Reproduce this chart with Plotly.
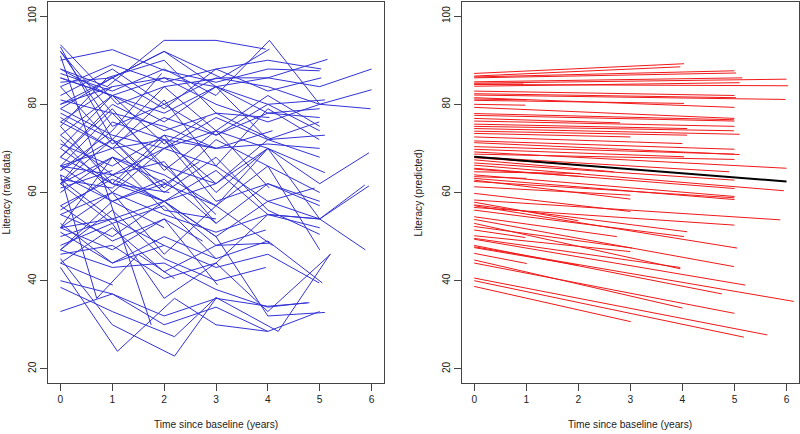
import plotly.graph_objects as go

# ---- Predicted (red) lines: intercept at t=0, end time, end value ----
red_y0 = [87.0, 86.4, 86.2, 86.0, 85.1, 84.8, 84.5, 84.1, 83.0, 82.4, 82.1, 81.5, 80.9, 80.0,
          79.3, 77.9, 77.5, 76.8, 76.2, 75.5, 75.0, 74.5, 73.9, 73.4, 72.6, 71.7, 71.3, 70.4,
          69.8, 69.2, 68.7, 68.1, 67.4, 66.7, 66.2, 65.5, 64.7, 64.0, 63.6, 63.2, 62.8, 62.5,
          61.3, 59.8, 58.3, 57.2, 57.0, 56.6, 56.0, 54.5, 53.9, 53.0, 52.3, 50.2, 49.6, 49.4,
          48.0, 47.7, 46.2, 44.7, 44.0, 40.6, 40.0, 38.7, 84.6, 81.2, 67.9, 65.3, 57.8, 47.5, 51.5]
red_t1 = [4.03, 3.96, 5.0, 5.03, 5.15, 6.0, 6.03, 5.1, 5.0, 5.03, 5.98, 5.0, 4.03, 0.98,
          5.0, 4.99, 5.0, 2.8, 5.0, 4.09, 4.99, 5.1, 4.09, 3.0, 4.0, 5.0, 5.1, 5.0,
          4.03, 6.0, 5.0, 4.9, 2.68, 5.0, 5.95, 5.0, 2.04, 5.0, 1.0, 5.0, 3.0, 5.0,
          3.0, 3.0, 5.88, 4.09, 5.05, 5.0, 4.03, 2.74, 4.99, 3.96, 3.03, 3.0, 3.96, 5.21,
          4.76, 6.14, 1.01, 4.0, 5.0, 5.63, 5.18, 3.01, 0.95, 1.0, 1.95, 2.1, 2.0, 2.0, 0.98]
red_y1 = [89.2, 88.5, 87.6, 87.1, 86.0, 85.7, 84.2, 84.9, 82.0, 81.5, 81.1, 79.3, 80.2, 79.8,
          76.8, 76.5, 76.2, 75.8, 75.0, 74.5, 74.0, 73.2, 73.0, 72.6, 71.1, 69.8, 68.6, 68.7,
          68.1, 65.5, 67.5, 64.7, 64.7, 62.8, 60.4, 60.9, 64.3, 59.1, 63.2, 58.4, 58.5, 58.8,
          59.4, 55.7, 53.8, 51.1, 47.4, 52.6, 50.0, 50.0, 43.2, 42.7, 47.4, 46.6, 43.0, 39.0,
          37.0, 35.3, 43.9, 33.8, 32.6, 27.7, 27.2, 30.7, 84.6, 81.0, 66.3, 63.6, 53.6, 43.5, 49.8]

# ---- Population average (black) line ----
avg_t = [0, 6]
avg_y = [68.1, 62.5]

# ---- Raw data (blue) trajectories ----
blue_t = [
    [0, 1.0, 2.0, 3.1, 4.03], [0, 0.9, 2.0, 3.0, 3.96], [0, 1, 2, 3, 4, 5.0], [0, 1, 2, 3, 4, 5.03],
    [0, 1.1, 2, 3.1, 4, 5.15], [0, 1, 2, 3, 4, 5, 6.0], [0, 1, 2, 3, 4, 5, 6.0], [0, 1, 2, 3, 4, 5.1],
    [0, 1, 2, 3, 4.03, 5.0], [0, 1, 2, 3, 4, 5.03], [0, 1, 2, 3, 4, 5, 5.98], [0, 1, 2, 3, 4, 5],
    [0, 0.9, 2, 3, 4.03], [0, 0.98], [0, 1, 2, 3, 4, 5], [0, 1, 2, 3, 4, 4.99],
    [0, 1, 2, 3, 4, 5], [0, 1, 2, 2.8], [0, 1, 2, 3, 4, 5], [0, 1, 2, 3, 4.09],
    [0, 1, 2, 3, 4, 4.99], [0, 1, 2, 3, 4, 5.1], [0, 1, 2, 3, 4.09], [0, 1, 2, 3.0],
    [0, 1, 2, 3, 4.0], [0, 1, 2, 3, 4, 5], [0, 1, 2, 3, 4, 5.1], [0, 1, 2, 3, 4, 5],
    [0, 1, 2, 3, 4.03], [0, 1, 2, 3, 4, 5, 5.95], [0, 1, 2, 3, 4, 5], [0, 1, 2, 3, 4, 4.9],
    [0, 1, 1.9, 2.68], [0, 1, 2, 3, 4, 5], [0, 1, 2, 3, 4, 5, 5.95], [0, 1, 2, 3, 4, 5],
    [0, 1, 2.04], [0, 1, 2, 3, 4, 5], [0, 1.0], [0, 1, 2, 3, 4, 5],
    [0, 1, 2, 3.0], [0, 1, 2, 3, 4, 5], [0, 1, 2, 3.0], [0, 1, 2, 3.0],
    [0, 1, 2, 3, 4, 5, 5.88], [0, 1, 2, 3, 4.09], [0, 1, 2, 3, 4, 5.05], [0, 1, 2, 3, 4, 5],
    [0, 1, 2, 3, 4.03], [0, 1, 2, 2.74], [0, 1, 2, 3, 4, 4.99], [0, 1, 2, 3, 3.96],
    [0, 1, 2, 3.03], [0, 1, 2, 3.0], [0, 1, 2, 3, 3.96], [0, 1, 2, 3, 4, 5.21],
    [0, 1, 2, 3, 4, 4.76], [0, 1, 2, 3, 4, 5, 5.87], [0, 1.01], [0, 1.1, 2.2, 3, 4],
    [0, 1, 2, 3, 4, 5], [0, 1, 2.2, 3, 4.2, 5.2], [0, 1, 2.2, 3, 4, 4.8], [0, 1, 2, 3.01],
    [0, 0.95], [0, 1.0], [0, 1, 1.95], [0, 1, 2.1], [0, 1, 2.0], [0, 1, 2.0], [0, 0.98],
    [0, 0.9, 1.75], [0, 1, 2, 3], [0, 0.7, 1.5, 2.2], [0, 1, 2, 3, 4, 5.1],
]
blue_v = [
    [80, 86, 92, 86, 92.5], [88, 84, 94.5, 94.5, 92.5], [90, 92.4, 87.7, 85, 88, 87.6], [84, 89, 85, 88, 90, 88],
    [93.5, 80, 84, 86, 86, 90.2], [86, 82, 86, 84, 86, 84, 88], [82, 88, 80, 86, 84, 80, 83.3], [85, 86, 92, 84, 80, 81],
    [87, 83, 88, 82, 94.5, 80], [79, 86, 79, 88, 83, 86], [80, 84, 86, 80, 76, 80, 79], [86, 82, 76, 84, 78, 79],
    [75, 86, 90, 78, 77], [81, 78], [92, 75, 80, 73, 78, 77], [70, 82, 78, 84, 72, 76],
    [78, 72, 84, 74, 82, 75], [73, 82, 71, 77], [84, 71, 77, 73, 80, 74], [68, 80, 74, 78, 72],
    [76, 70, 81, 66, 79, 72], [79, 73, 70, 77, 72, 73], [66, 78, 75, 70, 74], [77, 70, 72, 70],
    [68, 79, 65, 74, 70], [75, 62, 73, 70, 71, 70], [62, 76, 72, 62, 70, 64.5], [93, 72, 61, 72, 66, 60],
    [73, 64, 70, 74, 61], [71, 66, 73, 60, 70, 62, 69], [65, 72, 66, 62, 72, 68], [72, 60, 70, 66, 58, 61],
    [62, 72, 61, 67], [66, 70, 60, 68, 56, 50.5], [60, 68, 64, 57, 70, 54, 61.5], [63, 61, 72, 58, 62, 57],
    [62, 68, 62], [68, 62, 58, 65, 55, 52], [61, 65], [56, 64, 67, 53, 62, 58],
    [66, 58, 63, 53], [64, 58, 62, 57, 66, 47], [57, 63, 58, 62], [52, 68, 56, 54],
    [63, 54, 58, 50, 58, 54, 47], [55, 60, 46, 57, 48], [62, 53, 57, 45, 49, 39.5], [52, 60, 55, 51, 55, 54],
    [55, 50, 58, 48, 48.5], [57, 49, 54, 49], [50, 54, 48, 43, 46, 39.5], [47, 56, 45, 40, 43],
    [52, 47, 54, 39], [53, 44, 50, 45], [44, 52, 42, 48, 51.5], [46, 48, 40.5, 44, 33, 46],
    [47, 43, 44, 38, 34, 35], [48, 53, 36, 44, 55, 54, 61.7], [44, 39], [43, 24, 36, 30, 28.5],
    [33, 37, 30, 34, 28.5, 33], [38.5, 33, 27.3, 36.2, 28.5, 46], [45, 30, 22.9, 36, 34.2, 35], [40, 37, 32, 36],
    [88, 82], [76, 84], [65, 74, 87], [70, 62, 60], [47, 58, 52], [51, 44, 48], [52, 54],
    [91, 60, 30], [92, 78, 66, 55], [64, 36, 46, 40.5], [66, 64, 58, 50, 32, 32.8],
]

x_ticks = [0, 1, 2, 3, 4, 5, 6]
y_ticks = [20, 40, 60, 80, 100]


def joined(ts, vs):
    xs, ys = [], []
    for t, v in zip(ts, vs):
        xs += list(t) + [None]
        ys += list(v) + [None]
    return xs, ys


bx, by = joined(blue_t, blue_v)
rx, ry = joined([[0, t1] for t1 in red_t1], [[a, b] for a, b in zip(red_y0, red_y1)])

fig = go.Figure()
fig.add_trace(go.Scatter(x=bx, y=by, mode="lines", line=dict(color="rgb(50,50,215)", width=1),
                         connectgaps=False, hoverinfo="skip", xaxis="x", yaxis="y"))
fig.add_trace(go.Scatter(x=rx, y=ry, mode="lines", line=dict(color="rgb(240,25,25)", width=1),
                         connectgaps=False, hoverinfo="skip", xaxis="x2", yaxis="y2"))
fig.add_trace(go.Scatter(x=avg_t, y=avg_y, mode="lines", line=dict(color="black", width=2),
                         hoverinfo="skip", xaxis="x2", yaxis="y2"))

font = dict(family="Liberation Sans, Arial, sans-serif", size=10.2, color="#222")
axcommon = dict(showgrid=False, zeroline=False, showline=True, mirror=True, linecolor="#444",
                linewidth=1, ticks="outside", ticklen=7, tickcolor="#444", tickfont=font)
xr = [-0.24, 6.24]
yr = [16.8, 103.2]
fig.update_layout(
    width=800, height=434, showlegend=False,
    paper_bgcolor="white", plot_bgcolor="white",
    margin=dict(l=48, r=1, t=2, b=51),
    xaxis=dict(domain=[0, 0.4474], range=xr, tickvals=x_ticks, **axcommon),
    yaxis=dict(domain=[0, 1], range=yr, tickvals=y_ticks, tickangle=-90, **axcommon),
    xaxis2=dict(domain=[0.5509, 1], range=xr, tickvals=x_ticks, anchor="y2", **axcommon),
    yaxis2=dict(domain=[0, 1], range=yr, tickvals=y_ticks, tickangle=-90, anchor="x2", **axcommon),
    annotations=[
        dict(text="Time since baseline (years)", xref="paper", yref="paper", x=0.2237, y=-0.11,
             xanchor="center", yanchor="middle", showarrow=False, font=font),
        dict(text="Time since baseline (years)", xref="paper", yref="paper", x=0.7754, y=-0.11,
             xanchor="center", yanchor="middle", showarrow=False, font=font),
        dict(text="Literacy (raw data)", xref="paper", yref="paper", x=-0.0559, y=0.5,
             xanchor="center", yanchor="middle", textangle=-90, showarrow=False, font=font),
        dict(text="Literacy (predicted)", xref="paper", yref="paper", x=0.4939, y=0.5,
             xanchor="center", yanchor="middle", textangle=-90, showarrow=False, font=font),
    ],
)
fig.write_html("out.html", config={"displayModeBar": False})

# remove the default page margin so the figure sits at the window's top-left corner
with open("out.html", "r", encoding="utf-8") as f:
    html = f.read()
html = html.replace("<head>", "<head><style>html,body{margin:0;padding:0;overflow:hidden;}</style>", 1)
with open("out.html", "w", encoding="utf-8") as f:
    f.write(html)
